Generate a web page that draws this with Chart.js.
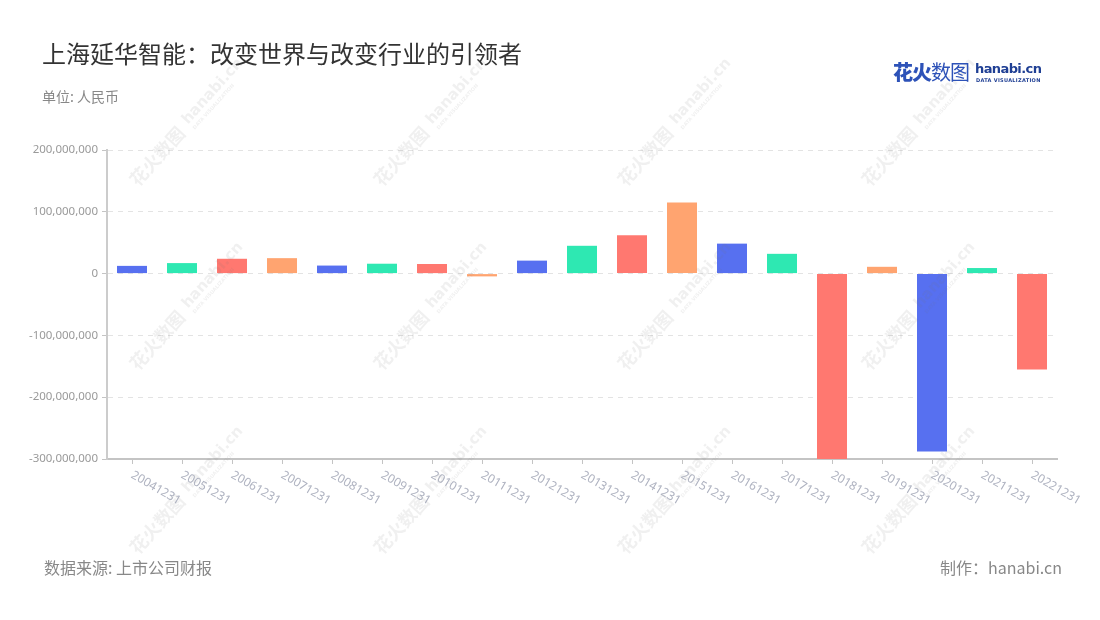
<!DOCTYPE html>
<html>
<head>
<meta charset="utf-8">
<script src="https://cdn.jsdelivr.net/npm/chart.js@4.4.0/dist/chart.umd.min.js"></script>
<style>
  html, body { margin:0; padding:0; background:#fff; }
  #wrap { position:relative; width:1100px; height:620px; overflow:hidden; font-family:"Noto Sans CJK SC","Noto Sans",sans-serif; }
  #c { position:absolute; left:0; top:0; }
  .t { position:absolute; white-space:nowrap; }
  #title { left:42px; top:39px; font-size:24px; line-height:28px; color:#333; }
  #unit { left:42px; top:86px; font-size:14px; line-height:20px; color:#888; }
  #src { left:44px; top:556px; font-size:16px; line-height:22px; color:#888; }
  #made { right:38px; top:556px; font-size:16px; line-height:22px; color:#888; }
  #logo1 { left:893px; top:60px; font-size:20px; line-height:24px; color:#2d52b8; letter-spacing:-1px; }
  #logo1 b { font-weight:900; }
  #logo2 { left:975px; top:61px; font-size:13px; line-height:16px; font-weight:700; color:#1f3f94; font-family:"DejaVu Sans",sans-serif; letter-spacing:-0.6px; }
  #logo3 { left:976px; top:77px; font-size:5px; line-height:6px; font-weight:700; color:#1f3f94; font-family:"DejaVu Sans",sans-serif; letter-spacing:0.3px; }
</style>
</head>
<body>
<div id="wrap">
  <canvas id="c" width="1100" height="620"></canvas>
  <div class="t" id="title">上海延华智能：改变世界与改变行业的引领者</div>
  <div class="t" id="unit">单位: 人民币</div>
  <div class="t" id="logo1"><b>花火</b>数图</div>
  <div class="t" id="logo2">hanabi.cn</div>
  <div class="t" id="logo3">DATA VISUALIZATION</div>
  <div class="t" id="src">数据来源: 上市公司财报</div>
  <div class="t" id="made">制作：hanabi.cn</div>
</div>
<script>
const categories = ['20041231','20051231','20061231','20071231','20081231','20091231','20101231','20111231','20121231','20131231','20141231','20151231','20161231','20171231','20181231','20191231','20201231','20211231','20221231'];
const values = [12500000, 17000000, 24000000, 25000000, 13000000, 16000000, 15500000, -4500000, 21000000, 45000000, 62000000, 115000000, 48500000, 32000000, -300000000, 11000000, -288000000, 9000000, -155000000];
const palette = ['#5770f0', '#2ee8b2', '#ff7870', '#ffa470'];
const yTicks = [200000000, 100000000, 0, -100000000, -200000000, -300000000];

const watermarkPlugin = {
  id: 'watermark',
  afterDraw(chart) {
    const ctx = chart.ctx;
    const cols = [133, 377, 621, 865];
    const rows = [183, 367, 551];
    ctx.save();
    ctx.fillStyle = 'rgba(120,120,120,0.11)';
    for (const r of rows) for (const c of cols) {
      ctx.save();
      ctx.translate(c, r);
      ctx.rotate(-48 * Math.PI / 180);
      ctx.textBaseline = 'middle';
      ctx.textAlign = 'left';
      ctx.font = 'bold 18px "Noto Sans CJK SC"';
      ctx.fillText('花火数图', 0, 0);
      ctx.font = 'bold 15px "DejaVu Sans"';
      ctx.fillText('hanabi.cn', 80, -2);
      ctx.font = 'bold 5px "DejaVu Sans"';
      ctx.fillText('DATA VISUALIZATION', 81, 9);
      ctx.restore();
    }
    ctx.restore();
  }
};

const xLabelPlugin = {
  id: 'xLabels',
  afterDraw(chart) {
    const ctx = chart.ctx;
    const xs = chart.scales.x;
    const bottom = chart.chartArea.bottom;
    ctx.save();
    ctx.fillStyle = '#aeb2c0';
    ctx.font = '12px "Noto Sans"';
    ctx.textAlign = 'left';
    ctx.textBaseline = 'top';
    categories.forEach((lab, i) => {
      const x = xs.getPixelForTick(i);
      ctx.save();
      ctx.translate(x + 3, bottom + 10);
      ctx.rotate(30 * Math.PI / 180);
      ctx.fillText(lab, 0, 0);
      ctx.restore();
    });
    ctx.restore();
  }
};

new Chart(document.getElementById('c'), {
  type: 'bar',
  data: {
    labels: categories,
    datasets: [{
      data: values,
      backgroundColor: values.map((v, i) => palette[i % palette.length]),
      borderWidth: 0,
      barPercentage: 0.6,
      categoryPercentage: 1.0
    }]
  },
  options: {
    responsive: false,
    animation: false,
    devicePixelRatio: 1,
    layout: { padding: { top: 150, right: 43, bottom: 141, left: 0 } },
    plugins: { legend: { display: false }, tooltip: { enabled: false }, title: { display: false } },
    scales: {
      x: {
        offset: true,
        afterFit(s) { s.height = 20; },
        grid: { display: true, drawOnChartArea: false, drawTicks: true, tickLength: 5, offset: false, tickColor: '#c4c4c4' },
        border: { display: true, color: '#c4c4c4', width: 2 },
        ticks: { display: false }
      },
      y: {
        min: -300000000,
        max: 200000000,
        afterFit(s) { s.width = 107; },
        afterBuildTicks(s) { s.ticks = yTicks.map(v => ({ value: v })); },
        grid: { color: '#e3e3e3', lineWidth: 1, tickLength: 5, tickColor: '#c4c4c4', tickBorderDash: [] },
        border: { display: true, color: '#cccccc', width: 2, dash: [5, 5] },
        ticks: {
          padding: 4,
          color: '#9a9a9a',
          font: { family: 'Noto Sans', size: 11.5 },
          callback: v => Number(v).toLocaleString('en-US')
        }
      }
    }
  },
  plugins: [watermarkPlugin, xLabelPlugin]
});
</script>
</body>
</html>
